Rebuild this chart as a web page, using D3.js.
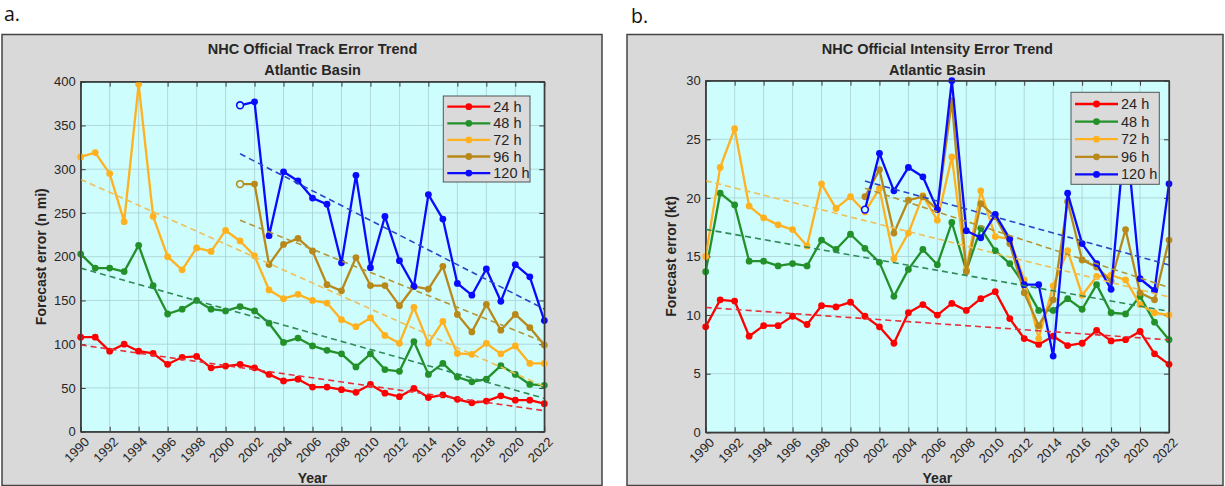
<!DOCTYPE html>
<html><head><meta charset="utf-8">
<script src="https://cdn.jsdelivr.net/npm/d3@7"></script>
<style>
html,body{margin:0;padding:0;background:#fff;}
svg{display:block;font-family:"Liberation Sans",Arial,sans-serif;}
</style></head>
<body>
<svg id="chart" width="1225" height="486"></svg>
<script>
// ---------------- DATA ----------------
const years = [1990,1991,1992,1993,1994,1995,1996,1997,1998,1999,2000,2001,2002,2003,2004,2005,2006,2007,2008,2009,2010,2011,2012,2013,2014,2015,2016,2017,2018,2019,2020,2021,2022];
const yearsLong = [2001,2002,2003,2004,2005,2006,2007,2008,2009,2010,2011,2012,2013,2014,2015,2016,2017,2018,2019,2020,2021,2022];
const seriesNames = ["24 h","48 h","72 h","96 h","120 h"];
const xTickLabels = ["1990","1992","1994","1996","1998","2000","2002","2004","2006","2008","2010","2012","2014","2016","2018","2020","2022"];

// Track error (n mi)
const track24 = [108,108,92,100,92,89.5,77,85,86,73,75,77,73,65.5,58,60,51,51,48,45,54,44,40,49.5,39,42,37,33,35,41,36,36,32];
const track48 = [203,187,187,183,213,167,134.5,140,150,140,138,143,138,124,102,107,98,93,89,74,89,71,69,103,65.5,78,62.5,57,60,75.5,65.5,54,53];
const track72 = [314,319,295,240,397,246,200,185,210,206,230,218,201,162,152,157,150,147,128,120,130,110,101,142,101,126,89.5,88.4,101,89,98,78,78];
const track96 = [283,283,191,214,221,206.5,168,161,199,167,167,144,166,163,189,134,114,145.5,116,134,119,99];
const track120 = [373,377,224,297,286.5,267,260,193,293,187.5,246,195.5,166,271,243,169.5,156,186,149,191,177,127];
const trackYTicks = [0,50,100,150,200,250,300,350,400];

// Intensity error (kt)
const int24 = [9,11.3,11.2,8.2,9.1,9.1,9.9,9.2,10.8,10.7,11.1,9.9,9.0,7.6,10.2,10.9,10.0,11.0,10.4,11.4,12.0,9.7,8.0,7.5,8.2,7.4,7.6,8.7,7.8,7.9,8.6,6.7,5.8];
const int48 = [13.7,20.4,19.4,14.6,14.6,14.2,14.4,14.2,16.4,15.6,16.9,15.7,14.5,11.6,13.9,15.6,14.3,17.9,13.8,17.4,15.5,14.4,12.6,10.4,10.4,11.4,10.5,12.6,10.2,10.1,11.6,9.4,7.9];
const int72 = [15.0,22.6,25.9,19.3,18.3,17.7,17.3,15.9,21.2,19.1,20.1,18.8,20.8,14.8,17.0,20.2,18.1,23.5,13.9,20.6,16.7,16.5,13.0,8.0,12.5,15.5,11.7,13.3,13.4,13.0,10.9,10.2,10.0];
const int96 = [20.1,22.4,17.0,19.8,20.1,19.0,28.3,13.7,19.5,18.4,16.1,11.9,9.1,11.3,19.7,14.7,14.1,12.9,17.3,11.9,11.3,16.4];
const int120 = [19.0,23.8,20.6,22.6,21.8,19.0,30.0,17.2,16.6,18.6,16.5,12.6,12.6,6.5,20.4,16.1,14.4,12.2,26.0,13.1,12.1,21.2];
const intYTicks = [0,5,10,15,20,25,30];

// ---------------- STYLE ----------------
const colors = ["#ff0000","#23912a","#ffb11f","#b8891a","#0a0aff"];
const trendColors = ["#e8303a","#2f8a55","#f0bf55","#b59535","#2b45c8"];
const panelFill = "#d9d9d9", plotFill = "#cdfdfd", gridColor = "#a9cfd2", axisColor = "#3a3a3a", textColor = "#262626";

const svg = d3.select("#chart");

function lsFit(xs, ys) {
  const n = xs.length;
  const mx = d3.mean(xs), my = d3.mean(ys);
  let sxy = 0, sxx = 0;
  for (let i = 0; i < n; i++) { sxy += (xs[i]-mx)*(ys[i]-my); sxx += (xs[i]-mx)*(xs[i]-mx); }
  const b = sxy / sxx;
  return x => my + b*(x - mx);
}

function drawPanel(cfg) {
  const g = svg.append("g");
  // letter
  g.append("text").attr("x", cfg.letter.x).attr("y", cfg.letter.y)
    .attr("font-family", "'Open Sans','Noto Sans',sans-serif").attr("font-size", 19.5)
    .attr("fill", "#111").text(cfg.letter.text);
  // panel
  g.append("rect").attr("x", cfg.box.x).attr("y", cfg.box.y).attr("width", cfg.box.w).attr("height", cfg.box.h)
    .attr("fill", panelFill).attr("stroke", "#444").attr("stroke-width", 1.5);

  const x = d3.scaleLinear().domain([1990, 2022]).range([cfg.plot.l, cfg.plot.r]);
  const y = d3.scaleLinear().domain([0, cfg.ymax]).range([cfg.plot.b, cfg.plot.t]);

  g.append("rect").attr("x", cfg.plot.l).attr("y", cfg.plot.t)
    .attr("width", cfg.plot.r - cfg.plot.l).attr("height", cfg.plot.b - cfg.plot.t).attr("fill", plotFill);

  // grid
  const xt = xTickLabels.map(Number);
  g.append("g").selectAll("line").data(xt).join("line")
    .attr("x1", d => x(d)).attr("x2", d => x(d)).attr("y1", cfg.plot.t).attr("y2", cfg.plot.b)
    .attr("stroke", gridColor).attr("stroke-width", 0.8);
  g.append("g").selectAll("line").data(cfg.yticks).join("line")
    .attr("y1", d => y(d)).attr("y2", d => y(d)).attr("x1", cfg.plot.l).attr("x2", cfg.plot.r)
    .attr("stroke", gridColor).attr("stroke-width", 0.8);

  // axes
  const ax = (axis, tx, ty) => {
    const a = g.append("g").attr("transform", `translate(${tx},${ty})`).call(axis);
    a.select(".domain").attr("stroke", axisColor).attr("stroke-width", 1.2);
    a.selectAll(".tick line").attr("stroke", axisColor);
    a.selectAll("text").attr("fill", textColor).attr("font-size", 13).attr("font-family", "'Liberation Sans',Arial,sans-serif");
    return a;
  };
  const bottom = ax(d3.axisBottom(x).tickValues(xt).tickFormat((d,i) => xTickLabels[i]).tickSizeInner(-5).tickSizeOuter(0).tickPadding(0), 0, cfg.plot.b);
  bottom.selectAll("text")
    .attr("text-anchor", "end").attr("dy", null).attr("y", null)
    .attr("transform", "translate(9,11) rotate(-45)");
  ax(d3.axisTop(x).tickValues(xt).tickFormat("").tickSizeInner(-5).tickSizeOuter(0), 0, cfg.plot.t);
  ax(d3.axisLeft(y).tickValues(cfg.yticks).tickSizeInner(-5).tickSizeOuter(0).tickPadding(5), cfg.plot.l, 0);
  ax(d3.axisRight(y).tickValues(cfg.yticks).tickFormat("").tickSizeInner(-5).tickSizeOuter(0), cfg.plot.r, 0);

  // series
  const line = d3.line().defined(d => d[1] != null).x(d => x(d[0])).y(d => y(d[1]));
  cfg.series.forEach((s, i) => {
    const pts = s.xs.map((xx, k) => [xx, s.values[k]]);
    g.append("path").datum(pts).attr("d", line).attr("fill", "none")
      .attr("stroke", colors[i]).attr("stroke-width", 2.3).attr("stroke-linejoin", "round");
    g.append("g").selectAll("circle").data(pts).join("circle")
      .attr("cx", d => x(d[0])).attr("cy", d => y(d[1])).attr("r", 3.4)
      .attr("fill", (d, k) => (s.hollowFirst && k === 0) ? plotFill : colors[i])
      .attr("stroke", colors[i]).attr("stroke-width", (d, k) => (s.hollowFirst && k === 0) ? 1.6 : 0);
  });
  // trends
  cfg.series.forEach((s, i) => {
    const f = lsFit(s.xs, s.values);
    const x0 = s.xs[0], x1 = s.xs[s.xs.length - 1];
    g.append("line").attr("x1", x(x0)).attr("y1", y(f(x0))).attr("x2", x(x1)).attr("y2", y(f(x1)))
      .attr("stroke", trendColors[i]).attr("stroke-width", 1.6).attr("stroke-dasharray", "6,4");
  });

  // plot border
  g.append("rect").attr("x", cfg.plot.l).attr("y", cfg.plot.t)
    .attr("width", cfg.plot.r - cfg.plot.l).attr("height", cfg.plot.b - cfg.plot.t)
    .attr("fill", "none").attr("stroke", axisColor).attr("stroke-width", 1.2);

  // titles
  const cx = (cfg.plot.l + cfg.plot.r) / 2;
  g.append("text").attr("x", cx).attr("y", 54).attr("text-anchor", "middle")
    .attr("font-weight", "bold").attr("font-size", 14.5).attr("fill", textColor).text(cfg.title1);
  g.append("text").attr("x", cx).attr("y", 75).attr("text-anchor", "middle")
    .attr("font-weight", "bold").attr("font-size", 14.5).attr("fill", textColor).text(cfg.title2);
  g.append("text").attr("x", cx).attr("y", 483).attr("text-anchor", "middle")
    .attr("font-weight", "bold").attr("font-size", 14).attr("fill", textColor).text("Year");
  g.append("text").attr("transform", `translate(${cfg.ylabelX},${(cfg.plot.t + cfg.plot.b) / 2}) rotate(-90)`)
    .attr("text-anchor", "middle").attr("font-weight", "bold").attr("font-size", 14)
    .attr("fill", textColor).text(cfg.ylabel);

  // legend
  const L = cfg.legend;
  g.append("rect").attr("x", L.x).attr("y", L.y).attr("width", L.w).attr("height", L.h)
    .attr("fill", "#dadada").attr("stroke", "#555").attr("stroke-width", 1);
  seriesNames.forEach((nm, i) => {
    const yy = L.y + L.first + i * L.step;
    g.append("line").attr("x1", L.x + 4).attr("x2", L.x + 47).attr("y1", yy).attr("y2", yy)
      .attr("stroke", colors[i]).attr("stroke-width", 2.3);
    g.append("circle").attr("cx", L.x + 25.5).attr("cy", yy).attr("r", 3.4).attr("fill", colors[i]);
    g.append("text").attr("x", L.x + 50).attr("y", yy + 5).attr("font-size", 14.5)
      .attr("fill", textColor).text(nm);
  });
}

drawPanel({
  letter: {text: "a.", x: 4, y: 21},
  box: {x: 2, y: 34.5, w: 600, h: 451},
  plot: {l: 80.7, r: 544.3, t: 81.7, b: 431.7},
  ymax: 400, yticks: trackYTicks,
  title1: "NHC Official Track Error Trend", title2: "Atlantic Basin",
  ylabel: "Forecast error (n mi)", ylabelX: 46,
  series: [
    {xs: years, values: track24},
    {xs: years, values: track48},
    {xs: years, values: track72},
    {xs: yearsLong, values: track96, hollowFirst: true},
    {xs: yearsLong, values: track120, hollowFirst: true}
  ],
  legend: {x: 443.3, y: 96, w: 86.7, h: 86, first: 10.7, step: 16.6}
});

drawPanel({
  letter: {text: "b.", x: 631, y: 23},
  box: {x: 627, y: 34.5, w: 596, h: 451},
  plot: {l: 705.7, r: 1169, t: 80.7, b: 432.3},
  ymax: 30, yticks: intYTicks,
  title1: "NHC Official Intensity Error Trend", title2: "Atlantic Basin",
  ylabel: "Forecast error (kt)", ylabelX: 676,
  series: [
    {xs: years, values: int24},
    {xs: years, values: int48},
    {xs: years, values: int72},
    {xs: yearsLong, values: int96},
    {xs: yearsLong, values: int120, hollowFirst: true}
  ],
  legend: {x: 1071, y: 92.3, w: 88.3, h: 92, first: 11.7, step: 17.6}
});
</script>
</body></html>
